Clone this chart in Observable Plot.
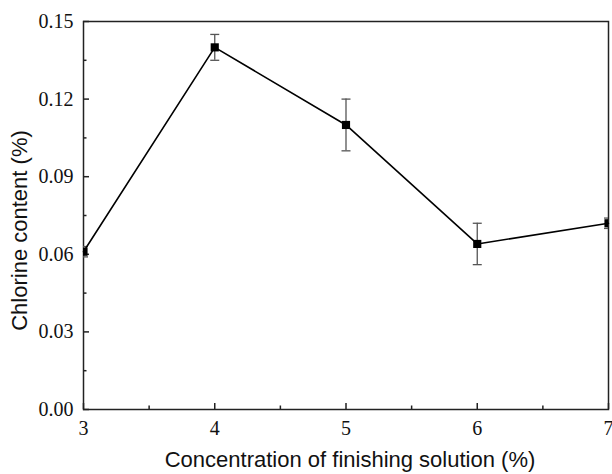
<!DOCTYPE html>
<html>
<head>
<meta charset="utf-8">
<script src="https://cdn.jsdelivr.net/npm/d3@7"></script>
<script src="https://cdn.jsdelivr.net/npm/@observablehq/plot@0.6"></script>
<style>
html, body { margin: 0; padding: 0; background: #fff; }
</style>
</head>
<body>
<div id="chart"></div>
<script>
const concentration = [3, 4, 5, 6, 7];
const chlorine = [0.061, 0.140, 0.110, 0.064, 0.072];
const errors = [0.002, 0.005, 0.010, 0.008, 0.002];
const xMajor = [3, 4, 5, 6, 7];
const xMinor = [3.5, 4.5, 5.5, 6.5];
const yMajor = [0, 0.03, 0.06, 0.09, 0.12, 0.15];
const yMinor = [0.015, 0.045, 0.075, 0.105, 0.135];
const xTitle = "Concentration of finishing solution (%)";
const yTitle = "Chlorine content (%)";

const data = concentration.map((x, i) => ({x, y: chlorine[i], lo: chlorine[i] - errors[i], hi: chlorine[i] + errors[i]}));

const cap = {
  draw(context, size) {
    const w = Math.sqrt(size / Math.PI);
    context.moveTo(-w, 0);
    context.lineTo(w, 0);
  }
};

const axisColor = "#222";
const serifCSS = "font-family:'Liberation Serif','Times New Roman',serif;font-size:20px;";
const sansCSS = "font-family:'Liberation Sans',Arial,sans-serif;font-size:22px;";

const plot = Plot.plot({
  width: 612,
  height: 474,
  marginLeft: 83,
  marginRight: 4,
  marginTop: 21,
  marginBottom: 65,
  style: {fontSize: "20px", color: "#111", background: "#fff"},
  x: {domain: [3, 7], label: null},
  y: {domain: [0, 0.15], label: null},
  marks: [
    Plot.frame({stroke: axisColor, strokeWidth: 1.5}),
    // inward ticks
    Plot.axisX(xMajor, {tickSize: -6, text: null, label: null, stroke: axisColor, strokeWidth: 1.5}),
    Plot.axisX(xMinor, {tickSize: -3.5, text: null, label: null, stroke: axisColor, strokeWidth: 1.5}),
    Plot.axisY(yMajor, {tickSize: -6, text: null, label: null, stroke: axisColor, strokeWidth: 1.5}),
    Plot.axisY(yMinor, {tickSize: -3.5, text: null, label: null, stroke: axisColor, strokeWidth: 1.5}),
    // tick labels + axis titles
    Plot.axisX(xMajor, {tickSize: 0, tickPadding: 11, tickFormat: d => String(d), fill: "#111",
      label: xTitle, labelAnchor: "center", labelArrow: "none", labelOffset: 57}),
    Plot.axisY(yMajor, {tickSize: 0, tickPadding: 10, tickFormat: d3.format(".2f"), fill: "#111",
      label: yTitle, labelAnchor: "center", labelArrow: "none", labelOffset: 72}),
    // error bars
    Plot.ruleX(data, {x: "x", y1: "lo", y2: "hi", stroke: "#555", strokeWidth: 1.3, clip: true}),
    Plot.dot(data, {x: "x", y: "lo", symbol: cap, r: 4.5, stroke: "#555", strokeWidth: 1.3, clip: true}),
    Plot.dot(data, {x: "x", y: "hi", symbol: cap, r: 4.5, stroke: "#555", strokeWidth: 1.3, clip: true}),
    // line + markers
    Plot.line(data, {x: "x", y: "y", stroke: "#000", strokeWidth: 1.6}),
    Plot.dot(data, {x: "x", y: "y", symbol: "square", r: 4.6, fill: "#000", stroke: "none", clip: true})
  ]
});

// tick labels serif, axis titles sans-serif
plot.querySelectorAll("text").forEach(t => {
  const s = t.textContent;
  if (s === xTitle || s === yTitle) {
    t.setAttribute("style", sansCSS);
    const tr = t.getAttribute("transform") || "";
    if (s === yTitle) t.setAttribute("transform", tr + " translate(-15,0)");
    else t.setAttribute("transform", tr + " translate(4,0)");
  } else {
    t.setAttribute("style", serifCSS);
  }
});
document.getElementById("chart").appendChild(plot);
</script>
</body>
</html>
